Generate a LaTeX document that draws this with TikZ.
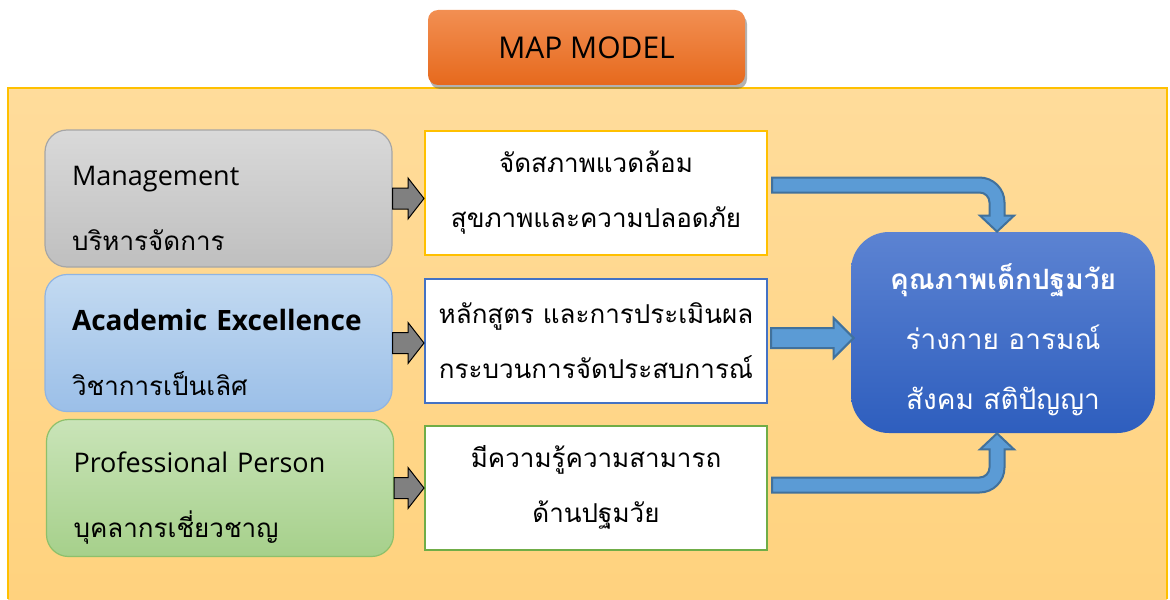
\documentclass[tikz,border=0pt]{standalone}
\usepackage{fontspec}
\setmainfont{Open Sans}
\newfontfamily\thai[Script=Thai]{Loma}
\usetikzlibrary{calc,shadows}

\definecolor{frametop}{HTML}{FFDC9B}
\definecolor{framebot}{HTML}{FFD27E}
\definecolor{frameline}{HTML}{FFC000}
\definecolor{titletop}{HTML}{F28F52}
\definecolor{titlebot}{HTML}{E6691D}
\definecolor{mgtop}{HTML}{D9D9D9}
\definecolor{mgbot}{HTML}{BFBFBF}
\definecolor{mgline}{HTML}{A6A6A6}
\definecolor{actop}{HTML}{C3DAF1}
\definecolor{acbot}{HTML}{9BBFE8}
\definecolor{acline}{HTML}{8FB4E3}
\definecolor{prtop}{HTML}{C9E4B8}
\definecolor{prbot}{HTML}{A6D08B}
\definecolor{prline}{HTML}{8DC06A}
\definecolor{midyel}{HTML}{FFC000}
\definecolor{midblue}{HTML}{4472C4}
\definecolor{midgreen}{HTML}{70AD47}
\definecolor{restop}{HTML}{5C83D2}
\definecolor{resbot}{HTML}{2E5EBE}
\definecolor{arrfill}{HTML}{5B9BD5}
\definecolor{arrline}{HTML}{41719C}

\tikzset{
  title/.style={rounded corners=5pt,top color=titletop,bottom color=titlebot,
    minimum width=158.5pt,minimum height=37.5pt,
    drop shadow={shadow xshift=1pt,shadow yshift=-2pt,fill=black!60,opacity=.5},
    font=\fontsize{15}{18}\selectfont},
  lbox/.style n args={3}{rounded corners=11pt,top color=#1,bottom color=#2,draw=#3,
    line width=.6pt,minimum width=173.5pt,minimum height=68.5pt,
    text width=146.5pt,inner xsep=13.5pt,align=left,
    font=\fontsize{13.5}{32.5}\selectfont},
  mbox/.style={draw=#1,line width=1pt,fill=white,minimum width=171pt,
    minimum height=62pt,align=center,font=\fontsize{13}{27.5}\selectfont},
  rbox/.style={rounded corners=19pt,top color=restop,bottom color=resbot,
    minimum width=152pt,minimum height=100.5pt,align=center,text=white,
    font=\fontsize{14}{30}\selectfont},
  grayarr/.style={fill=black!50,draw=black,line width=.5pt},
  bluearr/.style={fill=arrfill,draw=arrline,line width=1pt},
}
\newcommand{\thaisub}{\thai\fontsize{13}{32.5}\selectfont}
\newcommand{\topstrut}[1]{\rule{0pt}{#1}}

% small gray arrow between two boxes
\newcommand{\grayarrow}[2]{\draw[grayarr] let \p1=(#1.east), \p2=(#2.west) in
  (\x1,\y1+5.25pt) -- (\x2-8pt,\y1+5.25pt) -- (\x2-8pt,\y1+10.25pt) -- (\x2,\y1)
  -- (\x2-8pt,\y1-10.25pt) -- (\x2-8pt,\y1-5.25pt) -- (\x1,\y1-5.25pt) -- cycle;}
% bent arrows into the result box
\newcommand{\bluedown}[2]{\draw[bluearr] let \p1=(#1.east), \p2=(#2.north) in
  (\x1+2pt,\y1+7.75pt) -- (\x2-11.75pt,\y1+7.75pt) arc[start angle=90,end angle=0,radius=12.5pt]
  -- (\x2+0.75pt,\y2+8pt) -- (\x2+5.5pt,\y2+8pt) -- (\x2-3pt,\y2) -- (\x2-11.5pt,\y2+8pt)
  -- (\x2-6.75pt,\y2+8pt) -- (\x2-6.75pt,\y1-4.75pt) arc[start angle=0,end angle=90,radius=5pt]
  -- (\x1+2pt,\y1+0.25pt) -- cycle;}
\newcommand{\blueup}[2]{\draw[bluearr] let \p1=(#1.east), \p2=(#2.south) in
  (\x1+2pt,\y1-2.5pt) -- (\x2-11.75pt,\y1-2.5pt) arc[start angle=-90,end angle=0,radius=12.5pt]
  -- (\x2+0.75pt,\y2-8pt) -- (\x2+5.5pt,\y2-8pt) -- (\x2-3pt,\y2) -- (\x2-11.5pt,\y2-8pt)
  -- (\x2-6.75pt,\y2-8pt) -- (\x2-6.75pt,\y1+10pt) arc[start angle=0,end angle=-90,radius=5pt]
  -- (\x1+2pt,\y1+5pt) -- cycle;}

\begin{document}
\begin{tikzpicture}[x=0.5pt,y=0.5pt]
  \useasboundingbox (0,0) rectangle (1170,-599);
  % frame
  \fill[top color=frametop,bottom color=framebot] (8,-88) rectangle (1167,-599);
  \draw[frameline,line width=1pt] (8,-599) -- (8,-88) -- (1167,-88) -- (1167,-599);

  \node[title] (map) at (586.5,-47.5) {MAP MODEL};

  \node[lbox={mgtop}{mgbot}{mgline}] (mgmt) at (218.5,-198.5) {\topstrut{20pt}Management\\{\thaisub บริหารจัดการ}};
  \node[lbox={actop}{acbot}{acline}] (acad) at (218.5,-343) {\topstrut{20pt}{\fontsize{14}{32.5}\selectfont\bfseries Academic Excellence}\\{\thaisub วิชาการเป็นเลิศ}};
  \node[lbox={prtop}{prbot}{prline}] (prof) at (220,-488) {\topstrut{20pt}Professional Person\\{\thaisub บุคลากรเชี่ยวชาญ}};

  \node[mbox=midyel] (env) at (596,-193) {\thai จัดสภาพแวดล้อม\\\thai สุขภาพและความปลอดภัย};
  \node[mbox=midblue] (curr) at (596,-341) {\thai หลักสูตร และการประเมินผล\\\thai กระบวนการจัดประสบการณ์};
  \node[mbox=midgreen] (know) at (596,-487.5) {\thai มีความรู้ความสามารถ\\\thai ด้านปฐมวัย};

  \node[rbox] (res) at (1003,-332.5) {\topstrut{20pt}\thai\bfseries คุณภาพเด็กปฐมวัย\\\thai ร่างกาย อารมณ์\\\thai สังคม สติปัญญา};

  \grayarrow{mgmt}{env}
  \grayarrow{acad}{curr}
  \grayarrow{prof}{know}

  \bluedown{env}{res}
  \draw[bluearr] let \p1=(curr.east), \p2=(res.west) in
    (\x1+1.5pt,\y1+6.5pt) -- (\x2-8.5pt,\y1+6.5pt) -- (\x2-8.5pt,\y1+11.5pt) -- (\x2+1.5pt,\y1+1.5pt)
    -- (\x2-8.5pt,\y1-8.5pt) -- (\x2-8.5pt,\y1-3.5pt) -- (\x1+1.5pt,\y1-3.5pt) -- cycle;
  \blueup{know}{res}
\end{tikzpicture}
\end{document}
